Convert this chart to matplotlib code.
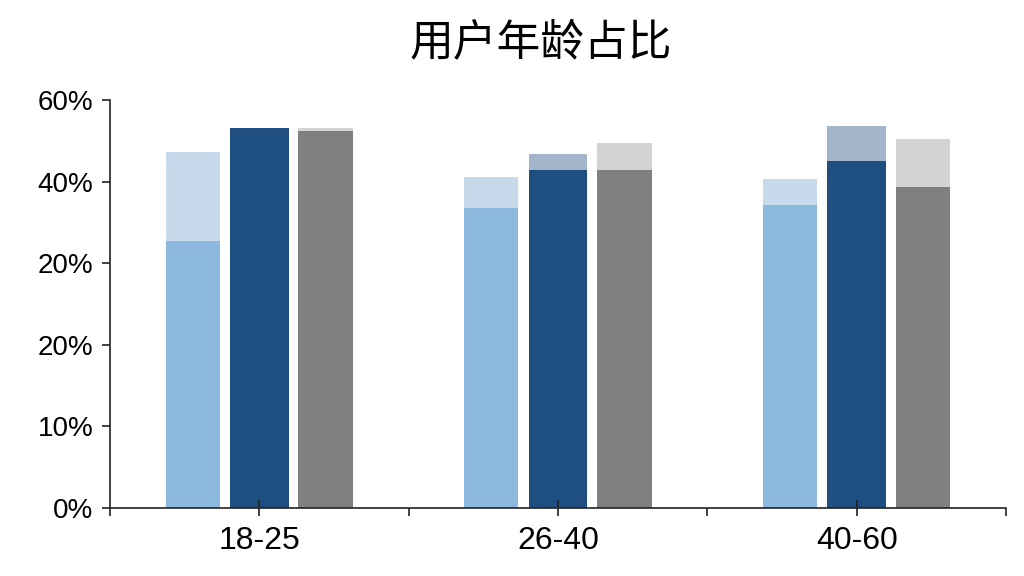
import matplotlib
matplotlib.use("Agg")
import matplotlib.pyplot as plt
import numpy as np

plt.rcParams['font.family'] = ['Liberation Sans', 'Noto Sans CJK SC', 'DejaVu Sans']

# age groups and the three series, in y-tick units (ticks 0..5)
groups = ['18-25', '26-40', '40-60']
ytick_labels = ['0%', '10%', '20%', '20%', '40%', '60%']

light_base = [3.27, 3.68, 3.71]
light_total = [4.36, 4.06, 4.04]
dark_base = [4.66, 4.14, 4.26]
dark_total = [4.66, 4.34, 4.69]
gray_base = [4.62, 4.14, 3.94]
gray_total = [4.66, 4.47, 4.53]

series = [
    (light_base, light_total, '#8db8dd', '#c6daec', -0.223, 0.18),
    (dark_base, dark_total, '#1f4e80', '#a2b5ca', 0.0, 0.197),
    (gray_base, gray_total, '#808080', '#d3d3d3', 0.222, 0.183),
]

fig = plt.figure(figsize=(10.24, 5.76), dpi=100)
ax = fig.add_axes([0.1074, 0.118, 0.875, 0.708])

x = np.arange(len(groups))
for base, total, c1, c2, off, w in series:
    base = np.array(base)
    top = np.array(total) - base
    ax.bar(x + off, base, width=w, color=c1, linewidth=0)
    ax.bar(x + off, top, bottom=base, width=w, color=c2, linewidth=0)

ax.set_xlim(-0.5, 2.5)
ax.set_ylim(0, 5)
ax.set_yticks(range(6))
ax.set_yticklabels(ytick_labels, fontsize=20)
ax.set_xticks(x)
ax.set_xticklabels(groups, fontsize=23)
ax.set_xticks([-0.5, 0.5, 1.5, 2.5], minor=True)

for s in ['top', 'right']:
    ax.spines[s].set_visible(False)
for s in ['left', 'bottom']:
    ax.spines[s].set_linewidth(1.2)
    ax.spines[s].set_color('#222222')

ax.tick_params(axis='y', direction='out', length=6, width=1.2, color='#222222', pad=6)
ax.tick_params(axis='x', which='major', direction='inout', length=12, width=1.2,
               color='#222222', pad=7)
ax.tick_params(axis='x', which='minor', direction='out', length=6, width=1.2,
               color='#222222')

fig.text(0.5285, 0.925, '用户年龄占比', ha='center', va='center', fontsize=31.5,
         fontweight='medium', family=['Noto Sans CJK SC', 'DejaVu Sans'])

fig.savefig('out.png', dpi=100)
